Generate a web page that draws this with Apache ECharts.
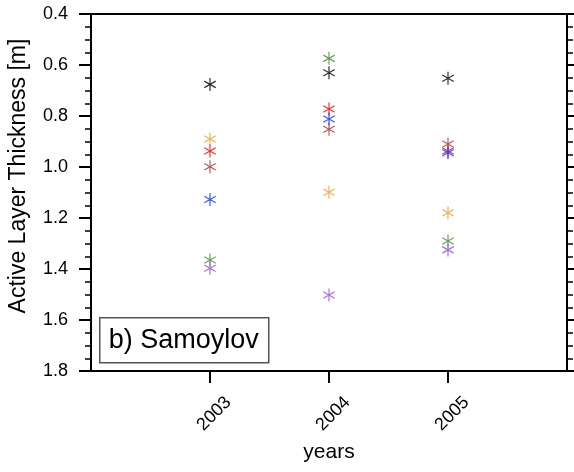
<!DOCTYPE html>
<html>
<head>
<meta charset="utf-8">
<script src="https://cdn.jsdelivr.net/npm/echarts@6/dist/echarts.min.js"></script>
<style>
html,body{margin:0;padding:0;background:#fff;}
#chart{width:574px;height:472px;}
</style>
</head>
<body>
<div id="chart"></div>
<script>
// ---- data ----
var years = [2003, 2004, 2005];
var yTicks = [0.4, 0.6, 0.8, 1.0, 1.2, 1.4, 1.6, 1.8];
var blackVals  = [0.676, 0.630, 0.652];
var orangeVals = [0.890, 1.099, 1.179];
var redVals    = [0.937, 0.773, 0.937];
var brownVals  = [0.999, 0.852, 0.910];
var blueVals   = [1.127, 0.812, 0.944];
var greenVals  = [1.365, 0.574, 1.290];
var purpleVals = [1.397, 1.502, 1.325];
var panelLabel = 'b) Samoylov';
var xTitle = 'years';
var yTitle = 'Active Layer Thickness [m]';

// ---- style ----
function asteriskPath(w) {
  var base = [[-w, -1], [w, -1], [w, 1], [-w, 1]];
  var out = '';
  [0, 60, -60].forEach(function (deg) {
    var a = deg * Math.PI / 180, c = Math.cos(a), s = Math.sin(a);
    base.forEach(function (p, i) {
      var x = p[0] * c - p[1] * s, y = p[0] * s + p[1] * c;
      out += (i === 0 ? 'M' : 'L') + x.toFixed(3) + ',' + y.toFixed(3);
    });
    out += 'Z';
  });
  return 'path://' + out;
}
var STAR = asteriskPath(0.09);
var FONT = 'Liberation Sans';

var seriesDefs = [
  ['black', blackVals, '#1a1a1a'],
  ['orange', orangeVals, '#f4a640'],
  ['red', redVals, '#ee2020'],
  ['brown', brownVals, '#b44848'],
  ['blue', blueVals, '#2244ff'],
  ['green', greenVals, '#58984a'],
  ['purple', purpleVals, '#a25ef0']
];

var series = seriesDefs.map(function (d) {
  return {
    name: d[0],
    type: 'scatter',
    symbol: STAR,
    symbolSize: [12, 13],
    itemStyle: { color: d[2], opacity: 0.9 },
    data: years.map(function (y, i) { return [y, d[1][i]]; }),
    silent: true
  };
});

var chart = echarts.init(document.getElementById('chart'), null, { renderer: 'canvas' });
var yMin = yTicks[0], yMax = yTicks[yTicks.length - 1];
chart.setOption({
  animation: false,
  backgroundColor: '#fff',
  grid: { left: 91, right: 7, top: 14, bottom: 101, show: true, borderColor: '#000', borderWidth: 2, containLabel: false, outerBoundsMode: 'none' },
  xAxis: {
    type: 'value', min: years[0] - 1, max: years[years.length - 1] + 1, interval: 1,
    name: xTitle, nameLocation: 'middle', nameGap: 71,
    nameTextStyle: { fontFamily: FONT, fontSize: 21, color: '#000' },
    axisLine: { show: true, lineStyle: { color: '#000', width: 2 } },
    splitLine: { show: false },
    axisTick: { show: true, inside: false, length: 12, customValues: years, lineStyle: { color: '#000', width: 2 } },
    axisLabel: {
      customValues: years, rotate: 45, align: 'center', verticalAlign: 'middle', margin: 47,
      padding: [0, 0, 0, 12],
      fontFamily: FONT, fontSize: 18, color: '#000',
      formatter: function (v) { return String(v); }
    }
  },
  yAxis: [{
    type: 'value', inverse: true, min: yMin, max: yMax, interval: 0.2, position: 'left',
    axisLine: { show: true, lineStyle: { color: '#000', width: 2 } },
    splitLine: { show: false },
    axisTick: { show: true, inside: false, length: 12, lineStyle: { color: '#000', width: 2 } },
    minorTick: { show: true, splitNumber: 4, length: 6, lineStyle: { color: '#000', width: 1.5 } },
    axisLabel: { margin: 23, fontFamily: FONT, fontSize: 18, color: '#000', formatter: function (v) { return v.toFixed(1); } }
  }, {
    type: 'value', inverse: true, min: yMin, max: yMax, interval: 0.2, position: 'right',
    axisLine: { show: true, lineStyle: { color: '#000', width: 2 } },
    splitLine: { show: false },
    axisTick: { show: true, inside: false, length: 12, lineStyle: { color: '#000', width: 2 } },
    minorTick: { show: true, splitNumber: 4, length: 6, lineStyle: { color: '#000', width: 1.5 } },
    axisLabel: { show: false }
  }],
  graphic: [{
    type: 'text', x: 19, y: 176, rotation: Math.PI / 2,
    style: { text: yTitle, fontFamily: FONT, fontSize: 23, fill: '#000', textAlign: 'center', textVerticalAlign: 'middle' }
  }, {
    type: 'group', left: 99, top: 317,
    children: [
      { type: 'rect', shape: { x: 0, y: 0, width: 169, height: 45 }, style: { fill: '#fff', stroke: '#555', lineWidth: 1.5 } },
      { type: 'text', x: 9, y: 22.5, style: { text: panelLabel, fontFamily: FONT, fontSize: 27, fill: '#000', textVerticalAlign: 'middle' } }
    ]
  }],
  series: series
});
</script>
</body>
</html>
